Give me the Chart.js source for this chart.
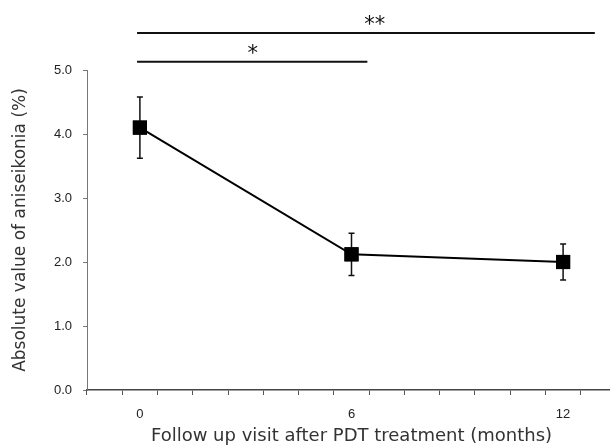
<!DOCTYPE html>
<html lang="en">
<head>
    <meta charset="UTF-8">
    <title>Aniseikonia after PDT</title>
    <script src="https://cdn.jsdelivr.net/npm/chart.js"></script>
    <style>
        body {
            margin: 0;
            background: #fff;
            overflow: hidden;
        }
        #wrap {
            width: 626px;
            height: 446px;
        }
    </style>
</head>
<body>
    <div id="wrap">
        <canvas id="chart" width="626" height="446"></canvas>
    </div>

    <script>
        // category slots along the x axis (blank slot at each end, like the original)
        const xSlots = ['', '0', '1', '2', '3', '4', '5', '6', '7', '8', '9', '10', '11', '12', ''];
        const shownLabels = ['0', '6', '12'];

        // follow-up visits and measured values
        const visits = ['0', '6', '12'];
        const meanValues = [4.1, 2.12, 2.0];
        const sdValues = [0.48, 0.33, 0.28];

        const yTickValues = [0, 1, 2, 3, 4, 5];

        // significance brackets (x in slot index, y in axis units)
        const bracketLabels = ['*', '**'];
        const bracketFrom = [0.92, 0.92];
        const bracketTo = [7.45, 13.9];
        const bracketTextAt = [4.2, 7.66];
        const bracketLevel = [5.13, 5.58];

        // draws error bars and the significance brackets
        const extras = {
            id: 'extras',
            afterDatasetsDraw(chart) {
                const ctx = chart.ctx;
                const xs = chart.scales.x;
                const ys = chart.scales.y;

                ctx.save();
                ctx.strokeStyle = '#111';
                ctx.lineWidth = 1.5;
                visits.forEach((v, i) => {
                    const px = xs.getPixelForValue(xSlots.indexOf(v));
                    const top = ys.getPixelForValue(meanValues[i] + sdValues[i]);
                    const bot = ys.getPixelForValue(meanValues[i] - sdValues[i]);
                    ctx.beginPath();
                    ctx.moveTo(px, top);
                    ctx.lineTo(px, bot);
                    ctx.moveTo(px - 3, top);
                    ctx.lineTo(px + 3, top);
                    ctx.moveTo(px - 3, bot);
                    ctx.lineTo(px + 3, bot);
                    ctx.stroke();
                });

                ctx.lineWidth = 2;
                ctx.fillStyle = '#111';
                ctx.font = '21px "DejaVu Sans"';
                ctx.textAlign = 'center';
                ctx.textBaseline = 'alphabetic';
                bracketLabels.forEach((lab, i) => {
                    const py = ys.getPixelForValue(bracketLevel[i]);
                    ctx.beginPath();
                    ctx.moveTo(xs.getPixelForValue(bracketFrom[i]), py);
                    ctx.lineTo(xs.getPixelForValue(bracketTo[i]), py);
                    ctx.stroke();
                    ctx.fillText(lab, xs.getPixelForValue(bracketTextAt[i]), py - 2);
                });
                ctx.restore();
            },
            // draw the squares on top of the error bars
            afterDraw(chart) {
                const meta = chart.getDatasetMeta(0);
                meta.data.forEach(p => p.draw(chart.ctx, chart.chartArea));
            }
        };

        const ctx = document.getElementById('chart').getContext('2d');
        new Chart(ctx, {
            type: 'line',
            data: {
                labels: xSlots,
                datasets: [{
                    data: visits.map((v, i) => ({ x: v, y: meanValues[i] })),
                    borderColor: '#000',
                    borderWidth: 2,
                    pointStyle: 'rect',
                    pointRadius: 10,
                    pointBackgroundColor: '#000',
                    pointBorderColor: '#000',
                    pointBorderWidth: 0,
                    tension: 0
                }]
            },
            options: {
                responsive: false,
                animation: false,
                layout: { padding: { top: 70, right: 0, left: 0, bottom: 0 } },
                plugins: {
                    legend: { display: false },
                    tooltip: { enabled: false }
                },
                scales: {
                    x: {
                        type: 'category',
                        offset: true,
                        grid: {
                            offset: true,
                            drawOnChartArea: false,
                            tickLength: 5,
                            color: '#555'
                        },
                        border: { color: '#444', width: 1.5 },
                        ticks: {
                            autoSkip: false,
                            maxRotation: 0,
                            color: '#222',
                            font: { family: 'Liberation Sans', size: 13 },
                            padding: 12,
                            callback: function (val) {
                                const lab = this.getLabelForValue(val);
                                return shownLabels.includes(lab) ? lab : '';
                            }
                        },
                        title: {
                            display: true,
                            text: 'Follow up visit after PDT treatment (months)',
                            color: '#333',
                            font: { family: 'DejaVu Sans', size: 18, lineHeight: 1.2 },
                            padding: { top: 0, bottom: -1 }
                        },
                        afterFit: s => { s.height = 56; }
                    },
                    y: {
                        min: 0,
                        max: 5,
                        afterBuildTicks: s => { s.ticks = yTickValues.map(v => ({ value: v })); },
                        grid: {
                            drawOnChartArea: false,
                            tickLength: 4,
                            color: '#777'
                        },
                        border: { color: '#777', width: 1, dash: [1, 1] },
                        ticks: {
                            color: '#222',
                            font: { family: 'Liberation Sans', size: 13 },
                            padding: 11,
                            callback: v => v.toFixed(1)
                        },
                        title: {
                            display: true,
                            text: 'Absolute value of aniseikonia (%)',
                            color: '#333',
                            font: { family: 'DejaVu Sans', size: 17, lineHeight: 1.2 },
                            padding: { top: 10, bottom: 0 }
                        },
                        afterFit: s => { s.width = 87; }
                    }
                }
            },
            plugins: [extras]
        });
    </script>
</body>
</html>
